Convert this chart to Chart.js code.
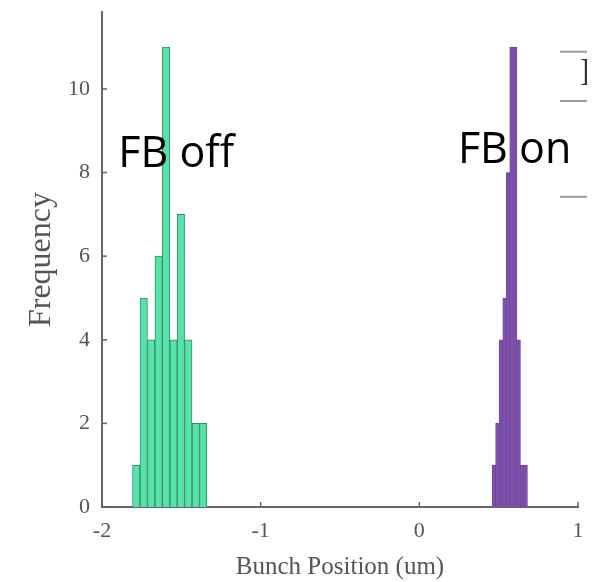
<!DOCTYPE html>
<html>
<head>
<meta charset="utf-8">
<script src="https://cdn.jsdelivr.net/npm/chart.js@4.4.1/dist/chart.umd.min.js"></script>
<style>
  html, body { margin: 0; padding: 0; background: #fff; }
  #wrap { width: 602px; height: 582px; }
</style>
</head>
<body>
<div id="wrap"><canvas id="hist"></canvas></div>
<script>
// Histogram bins (bin centres in um, counts, bin width in um)
const offCenters = [-1.784, -1.737, -1.690, -1.643, -1.596, -1.549, -1.503, -1.456, -1.409, -1.362];
const offCounts  = [1, 5, 4, 6, 11, 4, 7, 4, 2, 2];
const offBin     = 0.0468;
const onCenters  = [0.470, 0.492, 0.514, 0.537, 0.559, 0.581, 0.604, 0.626, 0.648, 0.670];
const onCounts   = [1, 2, 4, 5, 8, 11, 11, 4, 1, 1];
const onBin      = 0.0223;

const xTicks = [-2, -1, 0, 1];
const yTicks = [0, 2, 4, 6, 8, 10];

// slide overlay labels, placed in data units
const notes = [
  { text: 'FB off', x: -1.897, y: 8.13 },
  { text: 'FB on',  x: 0.243,  y: 8.23 }
];

const AXIS = '#666666';
const TXT  = '#555555';
const SERIF = '"Liberation Serif", "Times New Roman", serif';

const toXY = (cs, vs) => cs.map((c, i) => ({ x: c, y: vs[i] }));

// inward tick marks (MATLAB style), overlay text and the clipped legend box
const decor = {
  id: 'decor',
  afterDraw(chart) {
    const { ctx, chartArea: a, scales: { x, y } } = chart;
    ctx.save();
    ctx.strokeStyle = AXIS;
    ctx.lineWidth = 1.5;
    xTicks.forEach(v => {
      const px = x.getPixelForValue(v);
      ctx.beginPath(); ctx.moveTo(px, a.bottom); ctx.lineTo(px, a.bottom - 5); ctx.stroke();
    });
    yTicks.forEach(v => {
      const py = y.getPixelForValue(v);
      ctx.beginPath(); ctx.moveTo(a.left, py); ctx.lineTo(a.left + 5, py); ctx.stroke();
    });

    ctx.fillStyle = '#000';
    ctx.font = '43px "Open Sans", "Noto Sans", sans-serif';
    ctx.textBaseline = 'alphabetic';
    notes.forEach(n => ctx.fillText(n.text, x.getPixelForValue(n.x), y.getPixelForValue(n.y)));

    // legend box fragment cut by the picture's right edge
    ctx.beginPath();
    ctx.rect(0, 0, a.right + 9, chart.height);
    ctx.clip();
    ctx.strokeStyle = '#9a9a9a';
    ctx.lineWidth = 2;
    [y.getPixelForValue(10.89), y.getPixelForValue(9.71), y.getPixelForValue(7.42)].forEach(py => {
      ctx.beginPath(); ctx.moveTo(a.right - 18, py); ctx.lineTo(a.right + 9, py); ctx.stroke();
    });
    ctx.fillStyle = '#333';
    ctx.font = '40px ' + SERIF;
    ctx.fillText('I', a.right + 2, y.getPixelForValue(10.1));
    ctx.restore();
  }
};

const chart = new Chart(document.getElementById('hist'), {
  type: 'bar',
  data: {
    datasets: [
      {
        label: 'FB off',
        data: toXY(offCenters, offCounts),
        backgroundColor: '#55e3a9',
        borderColor: '#3a8766',
        borderWidth: 1,
        grouped: false
      },
      {
        label: 'FB on',
        data: toXY(onCenters, onCounts),
        backgroundColor: '#7d51aa',
        borderColor: '#6a4296',
        borderWidth: 0.6,
        grouped: false
      }
    ]
  },
  options: {
    responsive: true,
    maintainAspectRatio: false,
    animation: false,
    layout: { padding: { top: 12, right: 24, left: 0, bottom: 0 } },
    plugins: { legend: { display: false }, tooltip: { enabled: false } },
    scales: {
      x: {
        type: 'linear',
        offset: false,
        min: -2, max: 1,
        afterFit: s => { s.height = 75; s.paddingLeft = 0; s.paddingRight = 0; },
        afterBuildTicks: s => { s.ticks = xTicks.map(v => ({ value: v })); },
        ticks: { color: TXT, font: { family: SERIF, size: 22 }, padding: 11, maxRotation: 0 },
        grid: { display: false, drawTicks: false },
        border: { display: true, color: AXIS, width: 2 },
        title: { display: true, text: 'Bunch Position (um)', color: TXT, font: { family: SERIF, size: 25 }, padding: { top: 4, bottom: 0 } }
      },
      y: {
        min: 0, max: 11.84,
        afterFit: s => { s.width = 102; s.paddingTop = 0; s.paddingBottom = 0; },
        afterBuildTicks: s => { s.ticks = yTicks.map(v => ({ value: v })); },
        ticks: { color: TXT, font: { family: SERIF, size: 22 }, padding: 12 },
        grid: { display: false, drawTicks: false },
        border: { display: true, color: AXIS, width: 2 },
        title: { display: true, text: 'Frequency', color: TXT, font: { family: SERIF, size: 32 }, padding: { top: 22, bottom: 0 } }
      }
    }
  },
  plugins: [decor]
});

// histogram bars span exactly one bin on the x scale
const binPx = w => Math.abs(chart.scales.x.getPixelForValue(w) - chart.scales.x.getPixelForValue(0));
chart.data.datasets[0].barThickness = binPx(offBin);
chart.data.datasets[1].barThickness = binPx(onBin);
chart.update();
</script>
</body>
</html>
